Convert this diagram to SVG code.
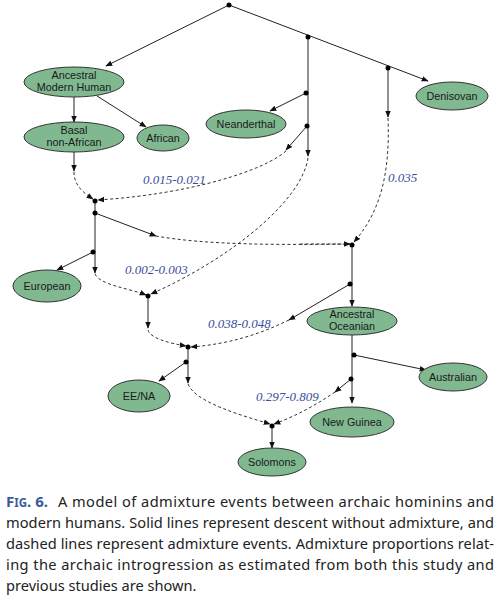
<svg xmlns="http://www.w3.org/2000/svg" width="500" height="607" viewBox="0 0 500 607">
<defs>
<marker id="ah" viewBox="0 0 10 10" refX="9" refY="5" markerWidth="7" markerHeight="7" orient="auto" markerUnits="userSpaceOnUse">
<path d="M0,1 L10,5 L0,9 z" fill="#111"/>
</marker>
</defs>
<style>
.node ellipse{fill:#80b890;stroke:#333;stroke-width:1}
.node text{font-family:"Liberation Sans",Arial,sans-serif;font-size:10.8px;fill:#1a1a1a;text-anchor:middle}
.s{fill:none;stroke:#222;stroke-width:1;marker-end:url(#ah)}
.sn{fill:none;stroke:#222;stroke-width:1}
.d{fill:none;stroke:#333;stroke-width:1;stroke-dasharray:3,2.5;marker-end:url(#ah)}
.dn{fill:none;stroke:#333;stroke-width:1;stroke-dasharray:3,2.5}
.dot{fill:#000}
.lab{font-family:"Liberation Serif","Times New Roman",serif;font-style:italic;font-size:13px;fill:#3d4d9a}
.cap{font-family:"Noto Sans","DejaVu Sans",sans-serif;font-size:14.6px;fill:#222}
.fig{font-family:"Noto Sans","DejaVu Sans",sans-serif;font-weight:bold;fill:#3a5a9c}
</style>
<rect width="500" height="607" fill="#fff"/>
<g id="connectors">
<path class="s" d="M229,5 L106,66"/>
<path class="s" d="M229,5 L428,81"/>
<path class="s" d="M308,37 L308,156"/>
<path class="s" d="M306,93 L270,111"/>
<path class="s" d="M307,126 L286,150"/>
<path class="s" d="M388,68 L388,117"/>
<path class="s" d="M74,97 L74,122"/>
<path class="s" d="M97,96 L146,127"/>
<path class="s" d="M74,152 L74,171"/>
<path class="s" d="M95,201 L95,273"/>
<path class="s" d="M95,213 L156,236"/>
<path class="s" d="M93,252 L57,270"/>
<path class="s" d="M148,296 L148,328"/>
<path class="s" d="M188,347 L188,383"/>
<path class="s" d="M186,362 L159,381"/>
<path class="s" d="M352,245 L352,306"/>
<path class="s" d="M350,284 L289,320"/>
<path class="s" d="M352,335 L352,403"/>
<path class="s" d="M354,355 L426,370"/>
<path class="s" d="M351,379 L335,392"/>
<path class="s" d="M272,426 L272,448"/>
<path class="d" d="M74,172 C74,186 84,193 93,199"/>
<path class="d" d="M286,151 C265,170 192,194 98,200"/>
<path class="d" d="M308,158 C302,200 232,258 151,294"/>
<path class="d" d="M388,118 C390,170 382,210 354,242"/>
<path class="dn" d="M156,236 C205,245 280,245 350,244"/>
<path class="d" d="M300,244 L350,244"/>
<path class="d" d="M95,274 C100,285 128,288 146,295"/>
<path class="d" d="M148,330 C150,338 168,343 186,346"/>
<path class="d" d="M289,320 C260,334 230,344 191,347"/>
<path class="d" d="M188,384 C195,402 240,415 270,424"/>
<path class="d" d="M335,392 C316,405 296,416 274,424"/>
</g>
<g id="dots">
<circle class="dot" cx="229" cy="5" r="2.5"/>
<circle class="dot" cx="308" cy="37" r="2.5"/>
<circle class="dot" cx="388" cy="68" r="2.5"/>
<circle class="dot" cx="306" cy="93" r="2.5"/>
<circle class="dot" cx="307" cy="126" r="2.5"/>
<circle class="dot" cx="95" cy="201" r="2.5"/>
<circle class="dot" cx="95" cy="213" r="2.5"/>
<circle class="dot" cx="93" cy="252" r="2.5"/>
<circle class="dot" cx="148" cy="296" r="2.5"/>
<circle class="dot" cx="188" cy="347" r="2.5"/>
<circle class="dot" cx="186" cy="362" r="2.5"/>
<circle class="dot" cx="352" cy="245" r="2.5"/>
<circle class="dot" cx="350" cy="284" r="2.5"/>
<circle class="dot" cx="354" cy="355" r="2.5"/>
<circle class="dot" cx="351" cy="379" r="2.5"/>
<circle class="dot" cx="272" cy="426" r="2.5"/>
</g>
<g id="amh" class="node"><ellipse cx="74" cy="82" rx="50" ry="15"/><text x="74" y="79">Ancestral</text><text x="74" y="91">Modern Human</text></g>
<g id="basal" class="node"><ellipse cx="74" cy="137" rx="50" ry="15"/><text x="74" y="134">Basal</text><text x="74" y="146">non-African</text></g>
<g id="african" class="node"><ellipse cx="163" cy="138" rx="26" ry="13"/><text x="163" y="142">African</text></g>
<g id="neanderthal" class="node"><ellipse cx="246" cy="124" rx="40" ry="14"/><text x="246" y="128">Neanderthal</text></g>
<g id="denisovan" class="node"><ellipse cx="452" cy="96" rx="36" ry="14"/><text x="452" y="100">Denisovan</text></g>
<g id="european" class="node"><ellipse cx="47" cy="286" rx="34" ry="16"/><text x="47" y="290">European</text></g>
<g id="oceanian" class="node"><ellipse cx="352" cy="321" rx="45" ry="14"/><text x="352" y="318">Ancestral</text><text x="352" y="330">Oceanian</text></g>
<g id="eena" class="node"><ellipse cx="139" cy="396" rx="31" ry="16"/><text x="139" y="400">EE/NA</text></g>
<g id="australian" class="node"><ellipse cx="453" cy="377" rx="34" ry="14"/><text x="453" y="381">Australian</text></g>
<g id="newguinea" class="node"><ellipse cx="352" cy="422" rx="42" ry="15"/><text x="352" y="426">New Guinea</text></g>
<g id="solomons" class="node"><ellipse cx="272" cy="462" rx="34" ry="14"/><text x="272" y="466">Solomons</text></g>
<g id="labels">
<text class="lab" x="143" y="184">0.015-0.021</text>
<text class="lab" x="388" y="182">0.035</text>
<text class="lab" x="125" y="274">0.002-0.003</text>
<text class="lab" x="208" y="328">0.038-0.048</text>
<text class="lab" x="256" y="401">0.297-0.809</text>
</g>
<g id="caption">
<text class="fig" x="6" y="507" font-size="15">F<tspan font-size="11.5">IG</tspan>. 6.</text>
<text class="cap" x="58" y="507" textLength="436" lengthAdjust="spacing">A model of admixture events between archaic hominins and</text>
<text class="cap" x="6" y="528" textLength="488" lengthAdjust="spacing">modern humans. Solid lines represent descent without admixture, and</text>
<text class="cap" x="6" y="549" textLength="488" lengthAdjust="spacing">dashed lines represent admixture events. Admixture proportions relat-</text>
<text class="cap" x="6" y="570" textLength="488" lengthAdjust="spacing">ing the archaic introgression as estimated from both this study and</text>
<text class="cap" x="6" y="591">previous studies are shown.</text>
</g>
</svg>
